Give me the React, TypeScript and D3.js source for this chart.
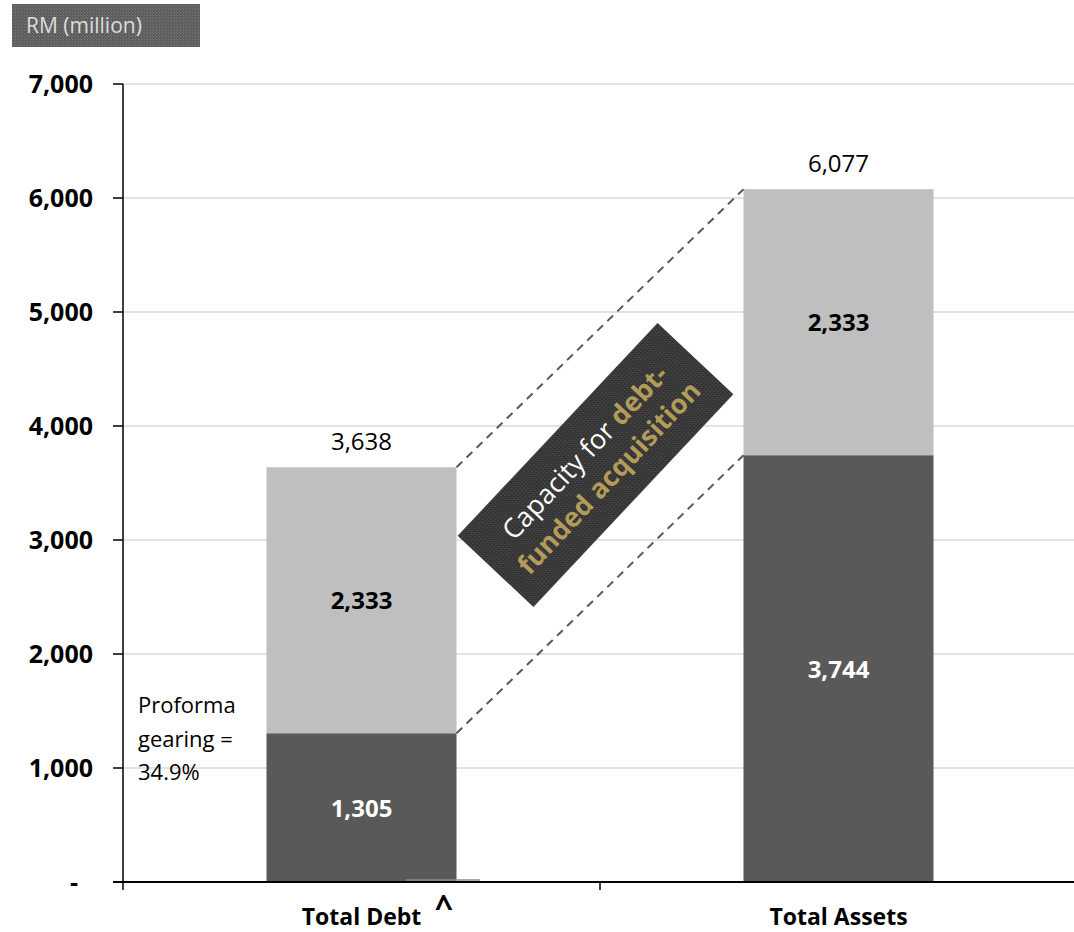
import React from "react";
import * as d3 from "d3";

const categories = ["Total Debt", "Total Assets"];
const baseValues = [1305, 3744];
const capacityValues = [2333, 2333];
const yTicks = [0, 1000, 2000, 3000, 4000, 5000, 6000, 7000];

const W = 1074, H = 932;
const FONT = "'Open Sans', sans-serif";

export default function App() {
  const x = d3.scaleBand().domain(categories).range([123, 1077]).paddingInner(0).paddingOuter(0);
  const y = d3.scaleLinear().domain([0, 7000]).range([882, 84]);
  const barW = 190;
  const cx = (c: string) => (x(c) as number) + x.bandwidth() / 2;
  const fmt = d3.format(",");
  const totals = baseValues.map((v, i) => v + capacityValues[i]);

  const dx0 = cx(categories[0]) + barW / 2;
  const dx1 = cx(categories[1]) - barW / 2;

  return (
    <svg width={W} height={H} style={{ display: "block", position: "absolute", left: 0, top: 0 }} fontFamily={FONT}>
      <defs>
        <pattern id="tex" width="3" height="3" patternUnits="userSpaceOnUse">
          <rect width="3" height="3" fill="#333" />
          <rect width="1" height="1" fill="#555" />
          <rect x="2" y="2" width="1" height="1" fill="#4a4a4a" />
        </pattern>
        <pattern id="tex2" width="3" height="3" patternUnits="userSpaceOnUse">
          <rect width="3" height="3" fill="#5e5e5e" />
          <rect width="1" height="1" fill="#7a7a7a" />
          <rect x="2" y="2" width="1" height="1" fill="#6e6e6e" />
        </pattern>
      </defs>
      <rect width={W} height={H} fill="#fff" />
      {/* unit label */}
      <rect x={12} y={4} width={188} height={43} fill="url(#tex2)" />
      <text x={26} y={33} fontSize={21} fill="#dcdcdc">RM (million)</text>

      {/* grid */}
      {yTicks.filter(t => t > 0).map(t => (
        <line key={t} x1={123} x2={1074} y1={y(t)} y2={y(t)} stroke="#d9d9d9" strokeWidth={1.5} />
      ))}

      {/* bars */}
      {categories.map((c, i) => (
        <g key={c}>
          <rect x={cx(c) - barW / 2} width={barW} y={y(baseValues[i])} height={y(0) - y(baseValues[i])} fill="#595959" />
          <rect x={cx(c) - barW / 2} width={barW} y={y(totals[i])} height={y(baseValues[i]) - y(totals[i])} fill="#bfbfbf" />
          <text x={cx(c)} y={y(baseValues[i] / 2) + 9} textAnchor="middle" fontSize={24} fontWeight="bold" fill="#fff">{fmt(baseValues[i])}</text>
          <text x={cx(c)} y={y(baseValues[i] + capacityValues[i] / 2) + 9} textAnchor="middle" fontSize={24} fontWeight="bold" fill="#000">{fmt(capacityValues[i])}</text>
          <text x={cx(c)} y={y(totals[i]) - 17} textAnchor="middle" fontSize={24} fill="#000">{fmt(totals[i])}</text>
        </g>
      ))}

      {/* dashed connectors */}
      <line x1={dx0} y1={y(totals[0])} x2={dx1} y2={y(totals[1])} stroke="#595959" strokeWidth={2} strokeDasharray="8,6" />
      <line x1={dx0} y1={y(baseValues[0])} x2={dx1} y2={y(baseValues[1])} stroke="#595959" strokeWidth={2} strokeDasharray="8,6" />

      {/* rotated annotation */}
      <g transform="translate(595.5,465) rotate(-46.8)">
        <rect x={-146} y={-52} width={292} height={104} fill="url(#tex)" />
        <text x={2} y={-7} textAnchor="middle" fontSize={27}>
          <tspan fill="#fff">Capacity for </tspan>
          <tspan fill="#b39b5a" fontWeight="bold">debt-</tspan>
        </text>
        <text x={0} y={28} textAnchor="middle" fontSize={27} fill="#b39b5a" fontWeight="bold">funded acquisition</text>
      </g>

      {/* axes */}
      <line x1={123} x2={123} y1={84} y2={882} stroke="#000" strokeWidth={1.5} />
      {yTicks.map(t => (
        <g key={t}>
          <line x1={113} x2={123} y1={y(t)} y2={y(t)} stroke="#000" strokeWidth={1.5} />
          <text x={t === 0 ? 78 : 93} y={y(t) + 9} textAnchor="end" fontSize={25} fontWeight="bold" fill="#000">{t === 0 ? "-" : fmt(t)}</text>
        </g>
      ))}
      <line x1={406} x2={480} y1={880} y2={880} stroke="#8c8c8c" strokeWidth={1.5} />
      <line x1={113} x2={1074} y1={882} y2={882} stroke="#000" strokeWidth={2} />
      {[123, 600].map(v => (
        <line key={v} x1={v} x2={v} y1={882} y2={890} stroke="#000" strokeWidth={1.5} />
      ))}
      {categories.map(c => (
        <text key={c} x={cx(c)} y={925} textAnchor="middle" fontSize={23} fontWeight="bold" fill="#000">{c}</text>
      ))}
      <text x={444} y={918} textAnchor="middle" fontSize={32} fontWeight="bold" fill="#000">^</text>

      {/* proforma note */}
      <text fontSize={22} fill="#000">
        <tspan x={138} y={713}>Proforma</tspan>
        <tspan x={138} y={747}>gearing =</tspan>
        <tspan x={138} y={780}>34.9%</tspan>
      </text>
    </svg>
  );
}
